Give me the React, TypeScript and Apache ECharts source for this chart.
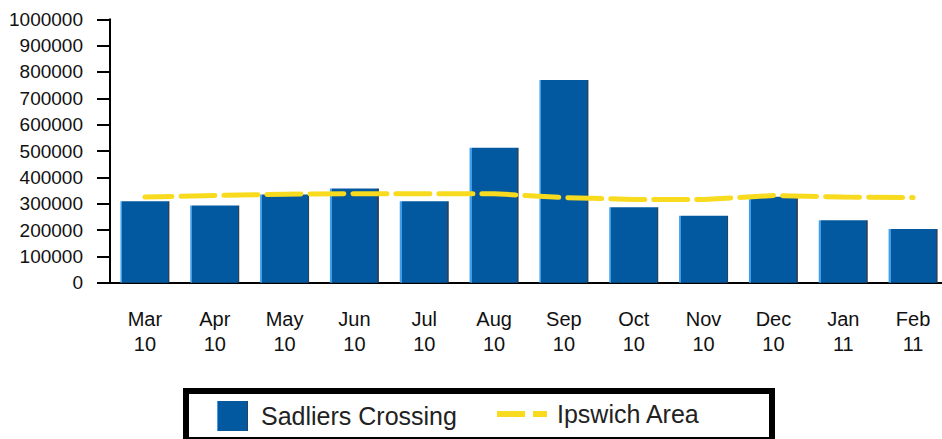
import React, { useEffect, useRef } from "react";
import * as echarts from "echarts";

const categories = ["Mar 10", "Apr 10", "May 10", "Jun 10", "Jul 10", "Aug 10", "Sep 10", "Oct 10", "Nov 10", "Dec 10", "Jan 11", "Feb 11"];
const sadliersCrossing = [309000, 293000, 335000, 358000, 309000, 512000, 770000, 286000, 254000, 326000, 237000, 204000];
const ipswichArea = [325000, 331000, 336000, 338000, 338000, 338000, 323000, 316000, 316000, 331000, 325000, 323000];
const seriesNames = ["Sadliers Crossing", "Ipswich Area"];

const FONT = "'Liberation Sans', Arial, sans-serif";

export default function App() {
  const ref = useRef<HTMLDivElement>(null);
  useEffect(() => {
    if (!ref.current) return;
    const chart = echarts.init(ref.current, null, { renderer: "svg" });
    const barColor = new echarts.graphic.LinearGradient(0, 0, 1, 0, [
      { offset: 0, color: "#3f9ee9" },
      { offset: 0.04, color: "#3f9ee9" },
      { offset: 0.04, color: "#03599f" },
      { offset: 0.97, color: "#03599f" },
      { offset: 0.97, color: "#29415a" },
      { offset: 1, color: "#29415a" },
    ]);
    chart.setOption({
      animation: false,
      backgroundColor: "#ffffff",
      grid: { left: 110, right: 2, top: 19.3, bottom: 156.3, containLabel: false },
      xAxis: {
        type: "category",
        data: categories,
        axisLine: { lineStyle: { color: "#000", width: 2 } },
        axisTick: { alignWithLabel: true, length: 11, lineStyle: { color: "#000", width: 2 } },
        axisLabel: {
          formatter: (v: string) => v.replace(" ", "\n"),
          fontFamily: FONT,
          fontSize: 20,
          lineHeight: 25,
          color: "#111",
          margin: 24,
          interval: 0,
        },
      },
      yAxis: {
        type: "value",
        min: 0,
        max: 1000000,
        interval: 100000,
        splitLine: { show: false },
        axisLine: { show: true, lineStyle: { color: "#000", width: 2 } },
        axisTick: { show: true, length: 13, lineStyle: { color: "#000", width: 2 } },
        axisLabel: {
          formatter: (v: number) => String(v),
          fontFamily: FONT,
          fontSize: 19,
          color: "#111",
          margin: 27,
        },
      },
      legend: [
        {
          data: [{ name: seriesNames[0], icon: "rect" }],
          left: 217,
          top: 401,
          padding: 0,
          itemWidth: 31,
          itemHeight: 30,
          textStyle: { fontFamily: FONT, fontSize: 25, color: "#222", padding: [0, 0, 0, 8] },
        },
        {
          data: [{ name: seriesNames[1], icon: "path://M0,0H28V6H0Z M36,0H50V6H36Z" }],
          left: 497,
          top: 401.5,
          padding: 0,
          itemWidth: 50,
          itemHeight: 6,
          textStyle: { fontFamily: FONT, fontSize: 25, color: "#222", padding: [0, 0, 0, 5] },
        },
      ],
      graphic: [
        {
          type: "rect",
          shape: { x: 186, y: 391, width: 586, height: 49 },
          style: { fill: "none", stroke: "#000", lineWidth: 6 },
          silent: true,
          z: 0,
        },
      ],
      series: [
        {
          name: seriesNames[0],
          type: "bar",
          data: sadliersCrossing,
          barWidth: 49,
          itemStyle: { color: barColor },
          z: 2,
        },
        {
          name: seriesNames[1],
          type: "line",
          data: ipswichArea,
          symbol: "none",
          showSymbol: false,
          itemStyle: { color: "#f8da1f" },
          lineStyle: { color: "#f8da1f", width: 5, type: [34, 9], dashOffset: 7, cap: "round" },
          z: 3,
        },
      ],
    });
    return () => chart.dispose();
  }, []);
  return (
    <div
      ref={ref}
      style={{ position: "fixed", left: 0, top: 0, width: 950, height: 439 }}
    />
  );
}
